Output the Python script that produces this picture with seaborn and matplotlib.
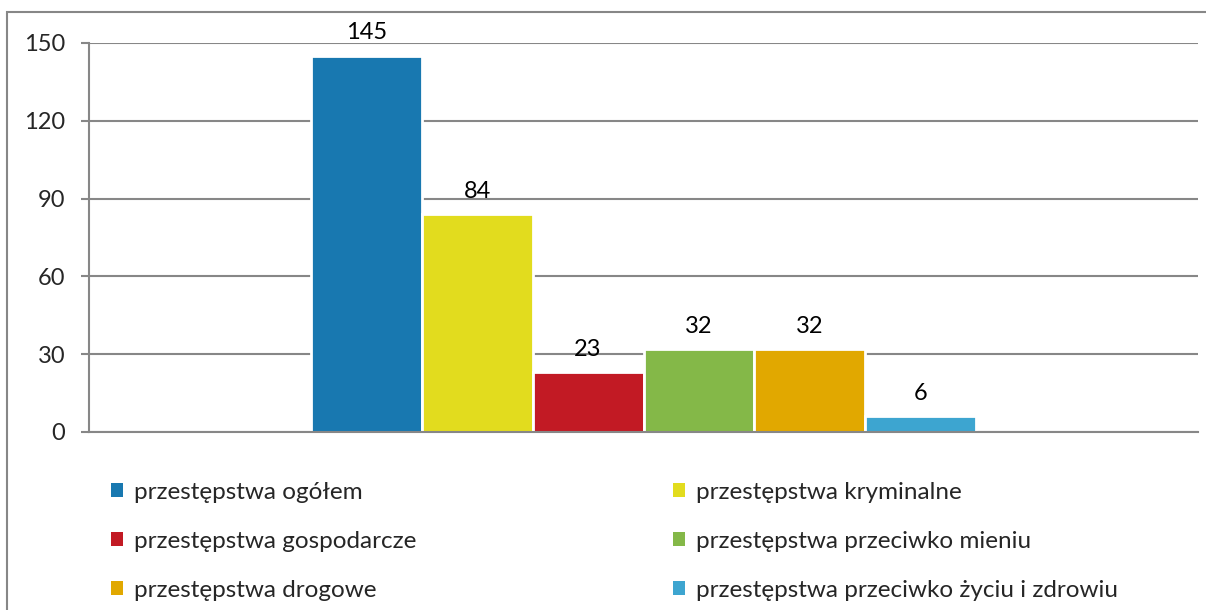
import matplotlib
matplotlib.use("Agg")
import matplotlib.pyplot as plt
from matplotlib.patches import Patch, Rectangle
import pandas as pd
import seaborn as sns

categories = [
    "przestępstwa ogółem",
    "przestępstwa kryminalne",
    "przestępstwa gospodarcze",
    "przestępstwa przeciwko mieniu",
    "przestępstwa drogowe",
    "przestępstwa przeciwko życiu i zdrowiu",
]
values = [145, 84, 23, 32, 32, 6]
colors = ["#1878B0", "#E2DC1E", "#C21A24", "#84B848", "#E1A800", "#3DA5D0"]
yticks = [0, 30, 60, 90, 120, 150]

df = pd.DataFrame({"grupa": [""] * len(values), "kategoria": categories, "wartosc": values})

sns.set_style("white")
plt.rcParams["font.family"] = ["Lato", "DejaVu Sans"]

fig = plt.figure(figsize=(12.06, 6.1), dpi=100)
ax = fig.add_axes([89 / 1206, 1 - 432 / 610, (1198 - 89) / 1206, (432 - 43) / 610])

sns.barplot(data=df, x="grupa", y="wartosc", hue="kategoria", hue_order=categories,
            palette=colors, saturation=1, width=0.6, edgecolor="white", linewidth=2,
            legend=False, ax=ax)

for cont in ax.containers:
    ax.bar_label(cont, fontsize=17, padding=9, color="black")

ax.set_ylim(0, 150)
ax.set_yticks(yticks)
ax.set_xticks([])
ax.set_xlabel("")
ax.set_ylabel("")
ax.grid(axis="y", color="#878787", linewidth=1.5)
ax.set_axisbelow(True)
for s in ["top", "right"]:
    ax.spines[s].set_visible(False)
for s in ["left", "bottom"]:
    ax.spines[s].set_color("#878787")
    ax.spines[s].set_linewidth(1.5)
ax.tick_params(axis="y", length=6, width=1.5, color="#878787", labelsize=17, pad=11, left=True)

# legenda w dwóch kolumnach
handles = [Patch(facecolor=c, edgecolor="none") for c in colors]
kw = dict(frameon=False, fontsize=17.5, handlelength=0.5, handleheight=0.5,
          handletextpad=0.45, labelspacing=1.15, loc="upper left", borderaxespad=0)
leg1 = fig.legend(handles[0::2], categories[0::2], bbox_to_anchor=(101 / 1206, 1 - 472 / 610), **kw)
leg2 = fig.legend(handles[1::2], categories[1::2], bbox_to_anchor=(663 / 1206, 1 - 472 / 610), **kw)

# ramka wykresu
fig.patches.append(Rectangle((7 / 1206, -0.05), 1.1, 1 - 12 / 610 + 0.05, transform=fig.transFigure,
                             fill=False, edgecolor="#878787", linewidth=1.5))

fig.savefig("out.png", dpi=100)
